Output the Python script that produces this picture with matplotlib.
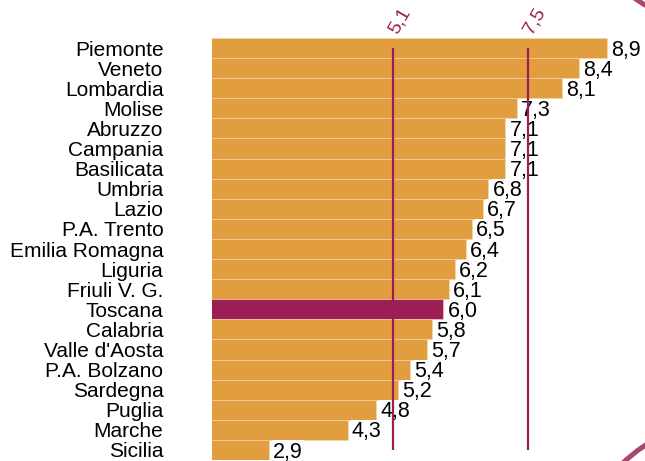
import matplotlib
matplotlib.use("Agg")
import matplotlib.pyplot as plt
from matplotlib.patches import Circle
from matplotlib.transforms import IdentityTransform

plt.rcParams["font.family"] = ["Liberation Sans", "DejaVu Sans"]

REGIONS = ["Piemonte", "Veneto", "Lombardia", "Molise", "Abruzzo", "Campania",
           "Basilicata", "Umbria", "Lazio", "P.A. Trento", "Emilia Romagna",
           "Liguria", "Friuli V. G.", "Toscana", "Calabria", "Valle d'Aosta",
           "P.A. Bolzano", "Sardegna", "Puglia", "Marche", "Sicilia"]
VALUES = [8.9, 8.4, 8.1, 7.3, 7.1, 7.1, 7.1, 6.8, 6.7, 6.5, 6.4,
          6.2, 6.1, 6.0, 5.8, 5.7, 5.4, 5.2, 4.8, 4.3, 2.9]
HIGHLIGHT = "Toscana"
REF_LINES = [5.1, 7.5]

ORANGE = "#E29D3E"
PURPLE = "#9B1F55"
ARC = "#A8476F"


def fmt(v):
    return f"{v:.1f}".replace(".", ",")


W, H = 645, 461
fig = plt.figure(figsize=(W / 100, H / 100), dpi=100)
ax = fig.add_axes([212 / W, 1 / H, 1 - 212 / W, (460 - 38) / H])

ypos = list(range(len(REGIONS)))
colors = [PURPLE if r == HIGHLIGHT else ORANGE for r in REGIONS]
ax.barh(ypos, VALUES, height=1.0, color=colors, edgecolor="#F2D9B3",
        linewidth=0.4, zorder=1)

for y, v in zip(ypos, VALUES):
    ax.annotate(fmt(v), (v, y), xytext=(3, -1.5), textcoords="offset points",
                ha="left", va="center", fontsize=15.5, color="black", zorder=2,
                bbox=dict(boxstyle="square,pad=0.05", fc="white", ec="none"))

for x in REF_LINES:
    ax.vlines(x, 0, len(REGIONS) - 1, color=PURPLE, linewidth=1.6, zorder=3)
    ax.annotate(fmt(x), (x, -0.5), xytext=(0, 4), textcoords="offset points",
                rotation=60, rotation_mode="anchor", ha="left", va="center",
                fontsize=14, color=PURPLE, annotation_clip=False)

ax.set_xlim(1.89, 9.58)
ax.set_ylim(len(REGIONS) - 0.5, -0.5)
ax.set_yticks(ypos)
ax.set_yticklabels(REGIONS, fontsize=15)
ax.tick_params(axis="y", length=0, pad=35)
ax.set_xticks([])
for s in ax.spines.values():
    s.set_visible(False)

# decorative arcs at the right edge of the page
arc_top = Circle((720, H + 125), 150, transform=IdentityTransform(),
                 fill=False, ec=ARC, lw=3.6)
arc_bot = Circle((727, H - 571), 150, transform=IdentityTransform(),
                 fill=False, ec=ARC, lw=3.6)
fig.patches.extend([arc_top, arc_bot])

fig.savefig("out.png", dpi=100)
